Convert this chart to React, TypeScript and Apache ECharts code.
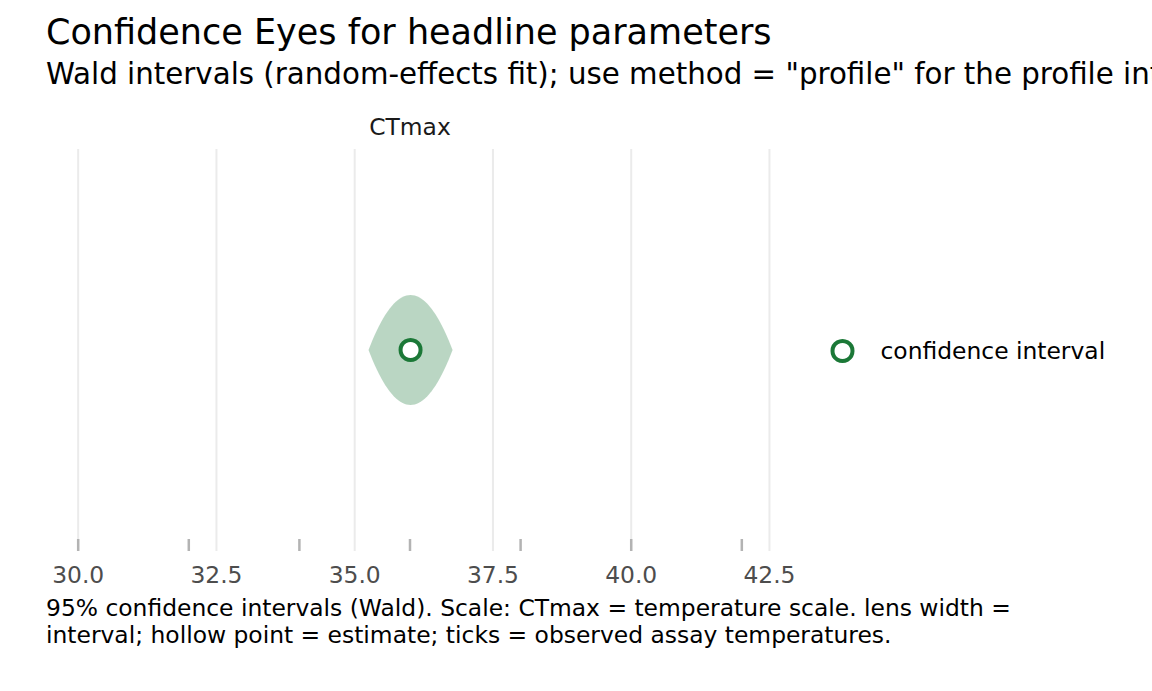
import React, { useEffect, useRef } from "react";
import * as echarts from "echarts";

// ---- data ----
const parameterLabel = "CTmax";
const estimateValue = [36.01];
const lowerBound = [35.25];
const upperBound = [36.77];
const assayTemps = [30, 32, 34, 36, 38, 40, 42];
const xBreaks = [30, 32.5, 35, 37.5, 40, 42.5];
const xLimits = [29.4, 42.6];

const titleText = "Confidence Eyes for headline parameters";
const subtitleText =
  'Wald intervals (random-effects fit); use method = "profile" for the profile interval';
const captionLines = [
  "95% confidence intervals (Wald). Scale: CTmax = temperature scale. lens width =",
  "interval; hollow point = estimate; ticks = observed assay temperatures.",
];
const legendLabel = "confidence interval";

// ---- style ----
const GREEN = "#1B7837";
const FONT = "'DejaVu Sans', sans-serif";
const EYE_HALF_PX = 55;
const RUG_PX = 12;
const SMALL = 23.4;

export default function App() {
  const ref = useRef<HTMLDivElement>(null);
  useEffect(() => {
    const chart = echarts.init(ref.current as HTMLDivElement, null, { renderer: "svg" });
    const captionTitles = captionLines.map((line, i) => ({
      text: line,
      left: 46,
      top: 596.2 + i * 27.4,
      padding: 0,
      textStyle: { fontFamily: FONT, fontSize: SMALL, lineHeight: SMALL, fontWeight: "normal", color: "#000" },
    }));
    const option: any = {
      animation: false,
      backgroundColor: "#ffffff",
      textStyle: { fontFamily: FONT },
      title: [
        {
          text: titleText,
          left: 46,
          top: 14.5,
          padding: 0,
          textStyle: { fontFamily: FONT, fontSize: 35, lineHeight: 35, fontWeight: "normal", color: "#000" },
        },
        {
          text: subtitleText,
          left: 46,
          top: 59.5,
          padding: 0,
          textStyle: { fontFamily: FONT, fontSize: 29.3, lineHeight: 29.3, fontWeight: "normal", color: "#000" },
        },
        {
          text: parameterLabel,
          left: 410,
          textAlign: "center",
          top: 115.5,
          padding: 0,
          textStyle: { fontFamily: FONT, fontSize: SMALL, lineHeight: SMALL, fontWeight: "normal", color: "#1a1a1a" },
        },
        ...captionTitles,
      ],
      legend: {
        data: [
          {
            name: legendLabel,
            icon: "circle",
            itemStyle: { color: "#ffffff", borderColor: GREEN, borderWidth: 4 },
          },
        ],
        orient: "vertical",
        left: 830.5,
        top: 339,
        padding: 0,
        itemWidth: 66,
        itemHeight: 20,
        textStyle: { fontFamily: FONT, fontSize: SMALL, color: "#000" },
      },
      grid: { left: 45, right: 377, top: 149, bottom: 140, containLabel: false },
      xAxis: {
        type: "value",
        min: xLimits[0],
        max: xLimits[1],
        axisLine: { show: false },
        axisTick: { show: false },
        splitLine: { show: false },
        axisLabel: {
          customValues: xBreaks,
          formatter: (v: number) => v.toFixed(1),
          color: "#4d4d4d",
          fontSize: SMALL,
          fontFamily: FONT,
          margin: 12,
        },
      },
      yAxis: { type: "value", min: 0, max: 2, show: false },
      series: [
        {
          type: "custom",
          silent: true,
          z: 1,
          data: xBreaks.map((v) => [v, 1]),
          renderItem: (params: any, api: any) => {
            const x = api.coord([api.value(0), 1])[0];
            const cs = params.coordSys;
            return {
              type: "line",
              shape: { x1: x, y1: cs.y, x2: x, y2: cs.y + cs.height },
              style: { stroke: "#ebebeb", lineWidth: 2 },
            };
          },
        },
        {
          type: "custom",
          silent: true,
          z: 2,
          data: assayTemps.map((v) => [v, 1]),
          renderItem: (params: any, api: any) => {
            const x = api.coord([api.value(0), 1])[0];
            const cs = params.coordSys;
            const b = cs.y + cs.height;
            return {
              type: "line",
              shape: { x1: x, y1: b - RUG_PX, x2: x, y2: b },
              style: { stroke: "#b3b3b3", lineWidth: 2.5 },
            };
          },
        },
        {
          type: "custom",
          silent: true,
          z: 3,
          data: estimateValue.map((e, i) => [lowerBound[i], e, upperBound[i], 1]),
          renderItem: (params: any, api: any) => {
            const yv = api.value(3);
            const pLo = api.coord([api.value(0), yv]);
            const pEst = api.coord([api.value(1), yv]);
            const pHi = api.coord([api.value(2), yv]);
            const cy = pEst[1];
            const n = 40;
            const top: number[][] = [];
            const bot: number[][] = [];
            for (let i = 0; i <= n; i++) {
              const s = -1 + (2 * i) / n;
              const x = s < 0 ? pEst[0] + s * (pEst[0] - pLo[0]) : pEst[0] + s * (pHi[0] - pEst[0]);
              const h = EYE_HALF_PX * (1 - s * s);
              top.push([x, cy - h]);
              bot.push([x, cy + h]);
            }
            const points = top.concat(bot.reverse());
            return {
              type: "polygon",
              shape: { points },
              style: { fill: "rgba(27,120,55,0.3)" },
            };
          },
        },
        {
          type: "scatter",
          name: legendLabel,
          z: 4,
          symbol: "circle",
          symbolSize: 20,
          data: estimateValue.map((e) => [e, 1]),
          itemStyle: { color: "#ffffff", borderColor: GREEN, borderWidth: 4, opacity: 1 },
        },
      ],
    };
    chart.setOption(option);
    return () => chart.dispose();
  }, []);
  return (
    <div
      ref={ref}
      style={{ position: "fixed", left: 0, top: 0, width: 1152, height: 691 }}
    />
  );
}
